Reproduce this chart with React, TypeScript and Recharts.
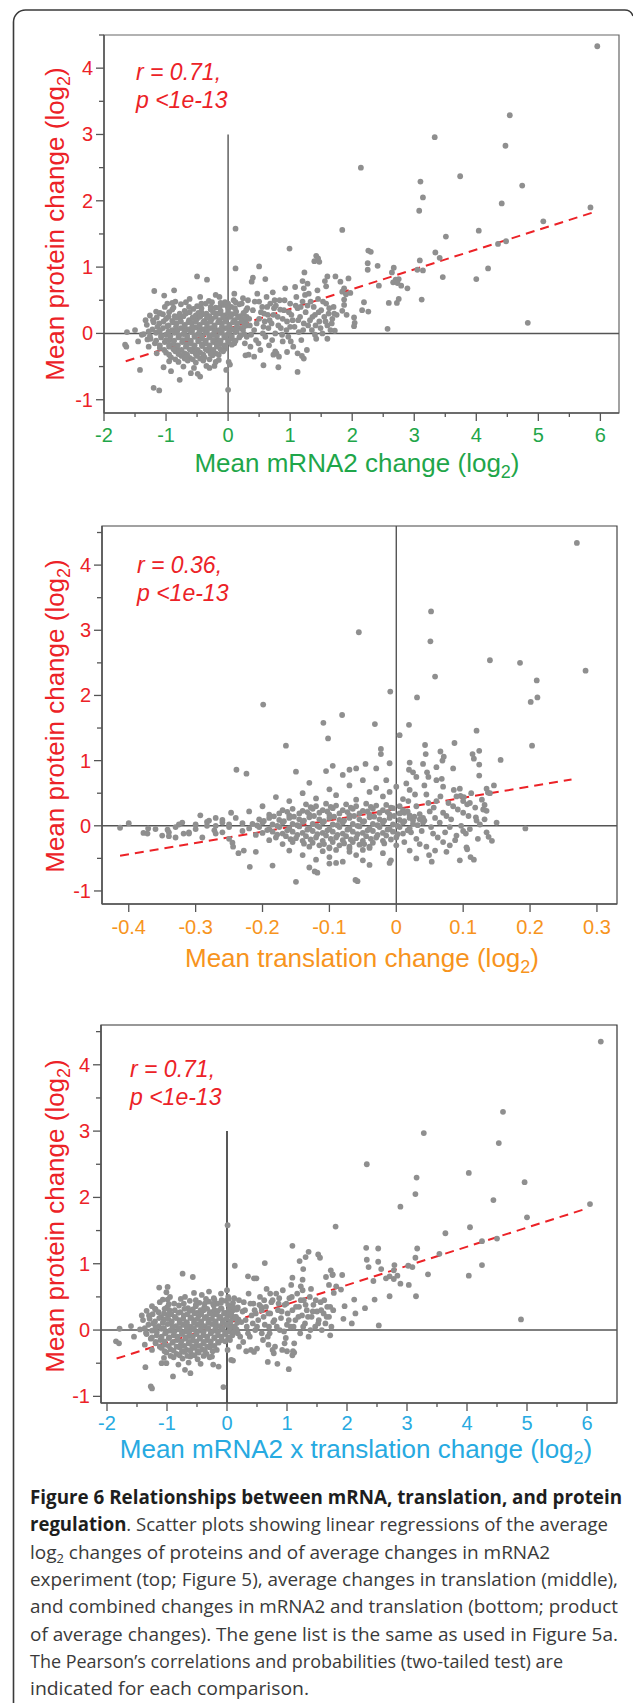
import React from 'react';
import {
    ScatterChart,
    Scatter,
    XAxis,
    YAxis,
    ReferenceLine,
    ReferenceArea,
} from 'recharts';

type Pair = [number, number];

// top panel: mean mRNA2 change vs mean protein change
const mrnaSparse: Pair[] = [
    [5.95, 4.33], [4.54, 3.29], [4.47, 2.83], [3.33, 2.96], [2.14, 2.5], [3.74, 2.37], [3.1, 2.29],
    [3.14, 2.05], [4.74, 2.23], [3.08, 1.85], [4.41, 1.96], [5.84, 1.9], [5.08, 1.69], [4.04, 1.55],
    [3.51, 1.46], [1.84, 1.56], [0.12, 1.58], [0.99, 1.28], [4.35, 1.35], [4.48, 1.39], [3.34, 1.22],
    [3.41, 1.14], [4.19, 0.98], [4.0, 0.82], [3.46, 0.85], [3.09, 1.1], [3.05, 0.96], [3.14, 0.95],
    [3.12, 0.51], [4.83, 0.16], [2.57, 0.07], [2.41, 1.02], [2.26, 1.25], [2.3, 1.23], [2.25, 1.06],
    [2.25, 0.96], [2.43, 0.72], [2.67, 0.99], [2.64, 0.92], [2.66, 0.77], [2.7, 0.81], [2.75, 0.82],
    [2.73, 0.76], [2.79, 0.72], [2.89, 0.68], [2.59, 0.46], [2.72, 0.46], [2.75, 0.52], [2.16, 0.35],
    [2.26, 0.33], [2.19, 0.47], [2.03, 0.24], [2.04, 0.16], [2.03, 0.11], [1.94, 0.83], [1.87, 0.68],
    [1.84, 0.63], [1.9, 0.59], [1.97, 0.61], [1.87, 0.51], [1.87, 0.43], [1.84, 0.34], [1.91, 0.28],
    [1.73, 0.86], [1.81, 0.78], [1.6, 0.86], [1.56, 0.79], [1.58, 0.71], [1.42, 1.17], [1.45, 1.13],
    [1.47, 1.08], [1.39, 1.09], [1.23, 0.92], [1.2, 0.79], [1.28, 0.75], [1.22, 0.68], [0.5, 1.01],
    [0.38, 0.78], [0.4, 0.84], [0.12, 0.98], [-0.5, 0.86], [-0.34, 0.81], [-1.19, 0.64], [-1.03, 0.57],
    [-0.87, 0.65], [1.12, -0.58], [0.81, -0.51], [0.57, -0.48], [0.0, -0.85], [-1.2, -0.82],
    [-1.11, -0.86], [-1.42, -0.55], [-1.66, -0.17], [-1.64, -0.2], [-1.63, 0.02], [-0.78, -0.7],
    [-1.04, -0.51], [-0.49, -0.61], [-0.45, -0.65], [-0.03, -0.55], [0.01, -0.43], [0.03, -0.47],
    [1.19, -0.34], [1.22, -0.38], [1.6, -0.08], [1.4, -0.02], [0.28, -0.33], [0.33, -0.32],
    [0.73, -0.32], [0.76, -0.27], [-1.39, -0.02], [-1.3, -0.09], [-0.92, -0.57], [-0.3, -0.52],
    [-0.22, -0.49],
];

const mrnaBand: Pair[] = [
    [0.22, 0.45], [0.25, 0.3], [0.28, 0.18], [0.3, -0.05], [0.32, 0.5], [0.35, 0.12], [0.36, -0.2],
    [0.4, 0.35], [0.42, 0.05], [0.45, -0.1], [0.47, 0.6], [0.5, 0.22], [0.52, -0.25], [0.55, 0.4],
    [0.57, 0.1], [0.6, -0.05], [0.62, 0.55], [0.64, 0.28], [0.66, -0.18], [0.7, 0.15], [0.72, 0.62],
    [0.74, 0.38], [0.76, 0.0], [0.78, -0.3], [0.8, 0.25], [0.83, 0.5], [0.85, 0.08], [0.88, -0.12],
    [0.9, 0.35], [0.92, 0.68], [0.95, 0.18], [0.97, -0.05], [1.0, 0.45], [1.02, 0.28], [1.05, -0.2],
    [1.07, 0.1], [1.1, 0.55], [1.12, 0.38], [1.14, 0.02], [1.16, 0.25], [1.18, -0.1], [1.2, 0.48],
    [1.22, 0.15], [1.25, 0.32], [1.27, -0.25], [1.3, 0.6], [1.32, 0.2], [1.35, 0.05], [1.38, 0.4],
    [1.4, 0.28], [1.42, -0.08], [1.45, 0.52], [1.47, 0.18], [1.5, 0.35], [1.52, 0.0], [1.55, 0.25],
    [1.58, 0.45], [1.6, 0.12], [1.62, 0.3], [1.65, 0.05], [1.68, 0.22], [1.7, 0.4], [1.72, 0.04],
    [1.75, 0.28], [0.6, 0.82], [0.68, 0.45], [0.82, -0.35], [0.95, -0.28], [1.08, 0.7], [0.3, 0.25],
    [0.5, 0.48], [0.65, 0.08], [0.88, 0.22], [1.0, 0.1], [1.28, 0.42], [1.12, -0.3], [1.44, 0.65],
    [0.75, 0.5], [0.42, -0.35], [0.58, 0.3],
    [0.24, 0.05], [0.27, -0.15], [0.31, 0.38], [0.34, 0.22], [0.37, -0.02], [0.43, 0.48], [0.46, 0.15],
    [0.49, -0.15], [0.53, 0.32], [0.56, 0.0], [0.59, 0.18], [0.63, 0.4], [0.67, 0.2], [0.71, -0.1],
    [0.73, 0.28], [0.77, 0.42], [0.81, 0.12], [0.84, 0.36], [0.87, -0.02], [0.91, 0.5], [0.94, 0.05],
    [0.98, 0.32], [1.01, -0.12], [1.04, 0.2], [1.09, 0.42], [1.13, 0.2], [1.17, 0.4], [1.21, 0.05],
    [1.24, 0.58], [1.29, 0.12], [1.33, 0.48], [1.36, 0.25], [1.41, 0.12], [1.46, 0.32], [1.49, 0.08],
    [1.53, 0.48], [1.57, 0.18], [1.63, 0.38], [1.67, 0.15], [1.71, 0.3],
];

const mrnaCore: Pair[] = [
    [-0.62, 0.52], [-0.31, 0.49], [-0.14, 0.55], [-0.05, 0.47], [0.09, 0.5], [0.24, 0.53],
    [-1.02, 0.4], [-0.76, 0.44], [-0.5, 0.41], [-0.36, 0.45], [-0.2, 0.39], [-0.08, 0.43], [0.05, 0.4], [0.18, 0.44],
    [-1.16, 0.33], [-0.9, 0.36], [-0.7, 0.34], [-0.56, 0.37], [-0.43, 0.32], [-0.28, 0.36], [-0.12, 0.34],
    [0.0, 0.37], [0.13, 0.33], [0.29, 0.35],
    [-1.26, 0.27], [-1.05, 0.29], [-0.86, 0.26], [-0.68, 0.3], [-0.52, 0.27], [-0.41, 0.29], [-0.3, 0.26],
    [-0.18, 0.3], [-0.06, 0.27], [0.06, 0.29], [0.2, 0.26],
    [-1.21, 0.2], [-1.0, 0.22], [-0.9, 0.19], [-0.78, 0.23], [-0.63, 0.2], [-0.5, 0.22], [-0.38, 0.19],
    [-0.26, 0.22], [-0.14, 0.2], [-0.02, 0.23], [0.1, 0.2], [0.24, 0.22],
    [-1.31, 0.13], [-1.11, 0.15], [-0.96, 0.12], [-0.83, 0.15], [-0.7, 0.13], [-0.58, 0.16], [-0.46, 0.13],
    [-0.34, 0.15], [-0.22, 0.12], [-0.1, 0.15], [0.02, 0.13], [0.15, 0.15], [0.3, 0.12],
    [-1.22, 0.06], [-1.05, 0.08], [-0.9, 0.05], [-0.76, 0.08], [-0.64, 0.06], [-0.52, 0.09], [-0.4, 0.06],
    [-0.28, 0.08], [-0.16, 0.05], [-0.04, 0.08], [0.08, 0.06], [0.2, 0.08],
    [-1.36, -0.01], [-1.16, 0.01], [-1.0, -0.02], [-0.86, 0.01], [-0.72, -0.01], [-0.6, 0.02], [-0.48, -0.01],
    [-0.36, 0.01], [-0.24, -0.02], [-0.12, 0.01], [0.0, -0.01], [0.12, 0.02], [0.26, -0.01],
    [-1.25, -0.08], [-1.08, -0.06], [-0.94, -0.09], [-0.8, -0.06], [-0.66, -0.08], [-0.54, -0.05], [-0.42, -0.08],
    [-0.3, -0.06], [-0.18, -0.09], [-0.06, -0.06], [0.06, -0.08], [0.18, -0.06],
    [-1.18, -0.15], [-1.02, -0.13], [-0.88, -0.16], [-0.74, -0.13], [-0.6, -0.15], [-0.48, -0.12], [-0.36, -0.15],
    [-0.24, -0.13], [-0.12, -0.16], [0.0, -0.13], [0.1, -0.15],
    [-1.1, -0.22], [-0.95, -0.2], [-0.82, -0.23], [-0.68, -0.2], [-0.55, -0.22], [-0.42, -0.19], [-0.3, -0.22],
    [-0.18, -0.2], [-0.05, -0.23],
    [-1.0, -0.29], [-0.85, -0.27], [-0.7, -0.3], [-0.58, -0.27], [-0.45, -0.29], [-0.32, -0.26], [-0.2, -0.3], [-0.08, -0.27],
    [-0.92, -0.36], [-0.75, -0.34], [-0.62, -0.37], [-0.5, -0.34], [-0.38, -0.36], [-0.25, -0.33],
    [-0.8, -0.43], [-0.65, -0.41], [-0.52, -0.44], [-0.4, -0.41], [-0.2, -0.43],
    [-0.72, -0.5], [-0.55, -0.52], [-0.35, -0.49],
    [-1.45, -0.12], [-1.5, 0.05], [-1.33, 0.2], [-1.28, -0.2], [-1.1, 0.3], [-1.15, -0.3], [-0.98, 0.45],
    [-0.85, 0.48], [-0.45, 0.55], [-0.2, 0.58], [0.1, 0.6], [-0.95, -0.42], [-0.6, -0.6], [-0.15, -0.4],
];

const mrnaCoreFill: Pair[] = [
    [-0.9, 0.46], [-0.68, 0.47], [-0.43, 0.45], [-0.26, 0.47], [-0.12, 0.46], [0.0, 0.45], [0.12, 0.47],
    [-0.88, 0.39], [-0.63, 0.4], [-0.43, 0.38], [-0.28, 0.4], [-0.14, 0.39], [-0.01, 0.41], [0.11, 0.38],
    [-1.1, 0.31], [-0.95, 0.32], [-0.78, 0.3], [-0.62, 0.32], [-0.48, 0.31], [-0.35, 0.3], [-0.24, 0.32],
    [-0.12, 0.3], [0.0, 0.32], [0.12, 0.3], [0.25, 0.31],
    [-1.15, 0.24], [-0.96, 0.25], [-0.84, 0.24], [-0.72, 0.26], [-0.57, 0.24], [-0.45, 0.25], [-0.34, 0.24],
    [-0.2, 0.25], [-0.08, 0.24], [0.04, 0.25], [0.16, 0.24],
    [-1.2, 0.17], [-1.04, 0.18], [-0.89, 0.17], [-0.76, 0.18], [-0.64, 0.17], [-0.52, 0.18], [-0.4, 0.17],
    [-0.28, 0.18], [-0.16, 0.17], [-0.04, 0.18], [0.08, 0.17], [0.22, 0.18],
    [-1.14, 0.1], [-0.98, 0.11], [-0.84, 0.1], [-0.7, 0.11], [-0.58, 0.1], [-0.46, 0.11], [-0.34, 0.1],
    [-0.22, 0.11], [-0.1, 0.1], [0.02, 0.11], [0.14, 0.1], [0.26, 0.11],
    [-1.28, 0.03], [-1.1, 0.04], [-0.96, 0.03], [-0.82, 0.04], [-0.7, 0.03], [-0.58, 0.04], [-0.46, 0.03],
    [-0.34, 0.04], [-0.22, 0.03], [-0.1, 0.04], [0.02, 0.03], [0.14, 0.04],
    [-1.26, -0.04], [-1.08, -0.03], [-0.93, -0.04], [-0.79, -0.03], [-0.66, -0.04], [-0.54, -0.03], [-0.42, -0.04],
    [-0.3, -0.03], [-0.18, -0.04], [-0.06, -0.03], [0.06, -0.04], [0.2, -0.03],
    [-1.16, -0.11], [-1.0, -0.1], [-0.87, -0.11], [-0.73, -0.1], [-0.6, -0.11], [-0.48, -0.1], [-0.36, -0.11],
    [-0.24, -0.1], [-0.12, -0.11], [0.0, -0.1], [0.12, -0.11],
    [-1.1, -0.18], [-0.95, -0.17], [-0.81, -0.18], [-0.67, -0.17], [-0.54, -0.18], [-0.42, -0.17], [-0.3, -0.18],
    [-0.18, -0.17], [-0.06, -0.18], [0.06, -0.17],
    [-1.03, -0.25], [-0.88, -0.24], [-0.75, -0.25], [-0.62, -0.24], [-0.49, -0.25], [-0.36, -0.24], [-0.24, -0.25], [-0.12, -0.24],
    [-0.95, -0.32], [-0.8, -0.31], [-0.66, -0.32], [-0.52, -0.31], [-0.4, -0.32], [-0.28, -0.31], [-0.15, -0.32],
    [-0.85, -0.39], [-0.7, -0.38], [-0.57, -0.39], [-0.45, -0.38], [-0.3, -0.39],
];

const mrnaFit: Pair[] = [[-1.65, -0.42], [5.9, 1.83]];
const mrnaXTicks = [-2, -1.5, -1, -0.5, 0, 0.5, 1, 1.5, 2, 2.5, 3, 3.5, 4, 4.5, 5, 5.5, 6];
const mrnaXLabels = ['-2', '', '-1', '', '0', '', '1', '', '2', '', '3', '', '4', '', '5', '', '6'];

// middle panel: mean translation change vs mean protein change
const transSparse: Pair[] = [
    [0.27, 4.34], [0.052, 3.29], [0.051, 2.83], [-0.056, 2.97], [0.14, 2.54], [0.185, 2.5], [0.283, 2.38],
    [0.058, 2.29], [0.21, 2.23], [0.211, 1.97], [0.201, 1.9], [-0.009, 2.06], [0.031, 1.97], [-0.199, 1.86],
    [-0.081, 1.7], [-0.109, 1.58], [-0.032, 1.56], [0.019, 1.55], [-0.102, 1.34], [0.005, 1.39],
    [-0.165, 1.23], [0.12, 1.46], [0.087, 1.27], [0.203, 1.23], [0.043, 1.24], [0.044, 1.1], [0.066, 1.14],
    [0.071, 1.06], [0.069, 1.0], [0.114, 1.1], [0.116, 1.03], [0.124, 1.15], [0.156, 1.01], [0.124, 0.94],
    [0.124, 0.77], [-0.023, 1.18], [-0.023, 1.1], [-0.046, 0.95], [-0.239, 0.86], [-0.224, 0.8],
    [-0.15, 0.83], [-0.105, 0.84], [-0.095, 0.92], [-0.07, 0.86], [-0.06, 0.88], [-0.01, 0.96],
    [0.02, 0.97], [0.019, 0.86], [0.046, 0.82], [0.048, 0.75], [0.095, 0.57], [0.096, 0.46], [0.135, 0.57],
    [0.137, 0.51], [0.146, 0.62], [0.101, 0.44], [0.106, 0.33], [0.132, 0.32], [0.135, 0.23], [0.119, 0.13],
    [0.193, -0.04], [0.138, -0.17], [0.143, -0.23], [0.095, -0.53], [0.111, -0.48], [0.116, -0.52],
    [0.105, -0.33], [0.106, -0.36], [0.08, -0.3], [0.053, -0.55], [0.049, -0.45], [0.03, -0.5],
    [-0.008, -0.53], [-0.01, -0.57], [-0.061, -0.83], [-0.058, -0.85], [-0.15, -0.86], [-0.122, -0.7],
    [-0.118, -0.72], [-0.13, -0.64], [-0.219, -0.63], [-0.185, -0.61], [-0.21, -0.4], [-0.236, -0.42],
    [-0.228, -0.38], [-0.245, -0.26], [-0.244, -0.32], [-0.1, -0.58], [-0.09, -0.57], [-0.05, -0.53],
    [-0.413, -0.03], [-0.4, 0.04], [-0.378, -0.11], [-0.371, -0.04], [-0.372, -0.12], [-0.342, -0.06],
    [-0.34, -0.16], [-0.33, -0.18], [-0.318, -0.12], [-0.325, 0.02], [-0.31, -0.1], [-0.293, 0.16],
    [-0.3, 0.02], [-0.283, 0.06], [-0.283, 0.0], [-0.272, -0.07], [-0.27, -0.12], [-0.26, 0.09],
    [-0.25, 0.02], [-0.247, 0.2],
];

const transBand: Pair[] = [
    [-0.12, 0.42], [-0.09, 0.47], [-0.06, 0.4], [-0.04, 0.52], [-0.02, 0.45], [0.0, 0.6], [-0.14, 0.5],
    [-0.16, 0.38], [-0.1, 0.56], [-0.07, 0.62], [-0.05, 0.7], [-0.03, 0.58], [-0.08, 0.78], [-0.13, 0.66],
    [-0.18, 0.44], [-0.2, 0.3], [-0.22, 0.22], [-0.24, 0.12], [-0.23, 0.04], [0.01, 0.41], [0.02, 0.55],
    [0.03, 0.3], [0.045, 0.48], [0.05, 0.22], [0.06, 0.38], [0.07, 0.6], [0.075, 0.15], [0.085, 0.3],
    [0.09, 0.45], [0.1, 0.2], [0.11, 0.35], [0.12, 0.08], [0.13, 0.25], [0.14, 0.5], [0.06, 0.7],
    [0.03, 0.75], [0.04, 0.12], [0.065, 0.05], [0.08, -0.02], [0.1, -0.08], [0.055, -0.12], [0.03, -0.2],
    [0.07, -0.25], [0.09, -0.15], [0.045, -0.32], [0.02, -0.38], [0.075, -0.4], [0.11, -0.05],
    [0.125, 0.02], [0.135, -0.1], [0.15, 0.05], [0.06, 0.9], [0.085, 0.88], [-0.03, 0.88],
    [-0.17, -0.28], [-0.19, -0.22], [-0.21, -0.14], [-0.23, -0.08], [-0.25, -0.02], [-0.14, -0.45],
    [-0.1, -0.48], [-0.06, -0.45], [-0.02, -0.42], [-0.08, -0.55], [-0.04, -0.6], [0.0, -0.3],
    [-0.16, -0.38], [-0.12, -0.52],
    [-0.27, 0.0], [-0.26, -0.1], [-0.28, 0.08], [-0.3, -0.05], [-0.31, -0.12], [-0.33, -0.02],
    [-0.34, -0.1], [-0.35, -0.15], [-0.32, 0.05], [-0.36, -0.05], [-0.29, -0.18], [-0.27, 0.12],
    [-0.25, -0.2], [-0.26, 0.05],
    [0.005, 0.3], [0.012, 0.2], [0.018, 0.38], [0.025, 0.08], [0.028, 0.48], [0.035, 0.18], [0.038, -0.08],
    [0.042, 0.62], [0.048, 0.35], [0.052, -0.02], [0.056, 0.28], [0.058, 0.12], [0.062, -0.18], [0.066, 0.45],
    [0.07, 0.2], [0.073, -0.1], [0.078, 0.35], [0.082, 0.1], [0.086, 0.55], [0.088, -0.22], [0.092, 0.25],
    [0.097, 0.0], [0.1, 0.38], [0.104, -0.12], [0.108, 0.15], [0.112, 0.5], [0.118, 0.28], [0.122, -0.2],
    [0.128, 0.4], [0.132, 0.1], [0.012, -0.25], [0.022, -0.1], [0.035, -0.28], [0.058, -0.38], [0.068, 0.72],
    [0.015, 0.65], [-0.01, 0.52], [0.025, 0.82], [-0.015, 0.7], [0.04, 0.95],
];

const transCore: Pair[] = [
    [-0.135, 0.33], [-0.12, 0.3], [-0.105, 0.34], [-0.09, 0.31], [-0.075, 0.33], [-0.06, 0.3], [-0.045, 0.34],
    [-0.03, 0.31], [-0.015, 0.32],
    [-0.17, 0.24], [-0.155, 0.26], [-0.14, 0.23], [-0.125, 0.26], [-0.11, 0.24], [-0.095, 0.27], [-0.08, 0.24],
    [-0.065, 0.26], [-0.05, 0.23], [-0.035, 0.26], [-0.02, 0.24], [-0.005, 0.27], [0.01, 0.24],
    [-0.19, 0.17], [-0.175, 0.19], [-0.16, 0.16], [-0.145, 0.19], [-0.13, 0.17], [-0.115, 0.2], [-0.1, 0.17],
    [-0.085, 0.19], [-0.07, 0.16], [-0.055, 0.19], [-0.04, 0.17], [-0.025, 0.2], [-0.01, 0.17], [0.005, 0.19],
    [0.02, 0.16],
    [-0.205, 0.1], [-0.19, 0.12], [-0.175, 0.09], [-0.16, 0.12], [-0.145, 0.1], [-0.13, 0.13], [-0.115, 0.1],
    [-0.1, 0.12], [-0.085, 0.09], [-0.07, 0.12], [-0.055, 0.1], [-0.04, 0.13], [-0.025, 0.1], [-0.01, 0.12],
    [0.005, 0.09], [0.02, 0.12], [0.035, 0.1],
    [-0.215, 0.03], [-0.2, 0.05], [-0.185, 0.02], [-0.17, 0.05], [-0.155, 0.03], [-0.14, 0.06], [-0.125, 0.03],
    [-0.11, 0.05], [-0.095, 0.02], [-0.08, 0.05], [-0.065, 0.03], [-0.05, 0.06], [-0.035, 0.03], [-0.02, 0.05],
    [-0.005, 0.02], [0.01, 0.05], [0.025, 0.03], [0.04, 0.05],
    [-0.22, -0.04], [-0.205, -0.02], [-0.19, -0.05], [-0.175, -0.02], [-0.16, -0.04], [-0.145, -0.01],
    [-0.13, -0.04], [-0.115, -0.02], [-0.1, -0.05], [-0.085, -0.02], [-0.07, -0.04], [-0.055, -0.01],
    [-0.04, -0.04], [-0.025, -0.02], [-0.01, -0.05], [0.005, -0.02], [0.02, -0.04],
    [-0.2, -0.11], [-0.185, -0.09], [-0.17, -0.12], [-0.155, -0.09], [-0.14, -0.11], [-0.125, -0.08],
    [-0.11, -0.11], [-0.095, -0.09], [-0.08, -0.12], [-0.065, -0.09], [-0.05, -0.11], [-0.035, -0.08],
    [-0.02, -0.11], [-0.005, -0.09], [0.01, -0.12],
    [-0.18, -0.18], [-0.165, -0.16], [-0.15, -0.19], [-0.135, -0.16], [-0.12, -0.18], [-0.105, -0.15],
    [-0.09, -0.18], [-0.075, -0.16], [-0.06, -0.19], [-0.045, -0.16], [-0.03, -0.18], [-0.015, -0.15], [0.0, -0.18],
    [-0.155, -0.25], [-0.14, -0.23], [-0.125, -0.26], [-0.11, -0.23], [-0.095, -0.25], [-0.08, -0.22],
    [-0.065, -0.25], [-0.05, -0.23], [-0.035, -0.26], [-0.02, -0.23],
    [-0.13, -0.32], [-0.115, -0.3], [-0.1, -0.33], [-0.085, -0.3], [-0.07, -0.32], [-0.055, -0.29], [-0.04, -0.32],
    [-0.11, -0.39], [-0.09, -0.37], [-0.07, -0.4], [-0.05, -0.37],
];

const transCoreFill: Pair[] = [
    [-0.128, 0.285], [-0.098, 0.29], [-0.068, 0.28], [-0.038, 0.29], [-0.008, 0.28],
    [-0.163, 0.215], [-0.133, 0.21], [-0.103, 0.22], [-0.073, 0.21], [-0.043, 0.22], [-0.013, 0.21], [0.017, 0.22],
    [-0.183, 0.145], [-0.153, 0.14], [-0.123, 0.15], [-0.093, 0.14], [-0.063, 0.15], [-0.033, 0.14],
    [-0.003, 0.15], [0.027, 0.14],
    [-0.198, 0.075], [-0.168, 0.07], [-0.138, 0.08], [-0.108, 0.07], [-0.078, 0.08], [-0.048, 0.07],
    [-0.018, 0.08], [0.012, 0.07], [0.042, 0.08],
    [-0.208, 0.005], [-0.178, 0.0], [-0.148, 0.01], [-0.118, 0.0], [-0.088, 0.01], [-0.058, 0.0],
    [-0.028, 0.01], [0.002, 0.0], [0.032, 0.01],
    [-0.193, -0.065], [-0.163, -0.07], [-0.133, -0.06], [-0.103, -0.07], [-0.073, -0.06], [-0.043, -0.07],
    [-0.013, -0.06], [0.017, -0.07],
    [-0.178, -0.135], [-0.148, -0.14], [-0.118, -0.13], [-0.088, -0.14], [-0.058, -0.13], [-0.028, -0.14], [0.002, -0.13],
    [-0.158, -0.205], [-0.128, -0.21], [-0.098, -0.2], [-0.068, -0.21], [-0.038, -0.2], [-0.008, -0.21],
    [-0.138, -0.275], [-0.108, -0.28], [-0.078, -0.27], [-0.048, -0.28], [-0.018, -0.27],
    [-0.1, -0.345], [-0.07, -0.35], [-0.04, -0.34],
];

const transFit: Pair[] = [[-0.413, -0.46], [0.262, 0.71]];
const transXTicks = [-0.4, -0.3, -0.2, -0.1, 0, 0.1, 0.2, 0.3];
const transXLabels = ['-0.4', '-0.3', '-0.2', '-0.1', '0', '0.1', '0.2', '0.3'];

// bottom panel: mean mRNA2 x translation change vs mean protein change
const combSparse: Pair[] = [
    [6.23, 4.35], [4.6, 3.29], [4.53, 2.82], [3.28, 2.97], [2.33, 2.5], [4.03, 2.37], [3.16, 2.3],
    [3.14, 2.05], [4.96, 2.23], [2.89, 1.86], [4.44, 1.96], [6.05, 1.9], [5.0, 1.7], [4.05, 1.55],
    [3.64, 1.46], [1.81, 1.56], [0.01, 1.58], [1.09, 1.27], [4.25, 1.34], [4.5, 1.38], [3.54, 1.15],
    [3.17, 1.23], [3.14, 1.09], [4.25, 0.98], [4.03, 0.82], [3.35, 0.84], [3.02, 0.97], [3.09, 0.95],
    [3.15, 0.51], [4.9, 0.16], [2.53, 0.07], [2.32, 1.24], [2.52, 1.23], [2.33, 1.06], [2.52, 1.03],
    [2.36, 0.95], [2.57, 0.92], [2.79, 0.98], [2.78, 0.9], [2.65, 0.78], [2.78, 0.77], [2.84, 0.82],
    [2.71, 0.81], [2.89, 0.7], [3.03, 0.68], [2.46, 0.46], [2.71, 0.51], [2.44, 0.74], [2.3, 0.33],
    [2.12, 0.46], [2.14, 0.25], [2.08, 0.1], [1.94, 0.17], [1.92, 0.83], [1.9, 0.61], [1.96, 0.36],
    [1.76, 0.83], [1.82, 0.66], [1.78, 0.56], [1.73, 0.9], [1.76, 0.84], [1.65, 0.8], [1.7, 0.68],
    [1.52, 1.14], [1.55, 1.09], [1.36, 1.18], [1.31, 1.1], [1.21, 1.04], [1.09, 0.79], [1.26, 0.76],
    [1.27, 0.92], [1.23, 0.66], [0.63, 1.01], [0.49, 0.78], [0.35, 0.81], [0.13, 0.97], [-0.74, 0.85],
    [-0.57, 0.8], [-1.13, 0.64], [-0.99, 0.65], [-1.01, 0.57], [1.72, -0.08], [1.03, -0.59],
    [0.84, -0.51], [0.68, -0.48], [1.12, -0.34], [1.09, -0.38], [-0.06, -0.86], [-1.27, -0.85],
    [-1.25, -0.88], [-1.36, -0.56], [-1.85, -0.17], [-1.8, -0.2], [-1.79, 0.02], [-0.9, -0.7],
    [-1.01, -0.5], [-1.09, -0.5], [-0.61, -0.65], [-0.14, -0.55], [-0.23, -0.52], [0.07, -0.45],
    [0.1, -0.46], [0.01, -0.3], [0.32, -0.32], [0.45, -0.33], [0.69, -0.22], [0.76, -0.3], [1.0, -0.32],
    [0.96, -0.2],
];

const combBand: Pair[] = [
    [0.1, 0.35], [0.15, 0.2], [0.18, -0.05], [0.2, 0.45], [0.24, 0.12], [0.27, -0.18], [0.3, 0.3],
    [0.33, 0.05], [0.36, 0.55], [0.38, -0.1], [0.41, 0.22], [0.44, 0.4], [0.47, 0.0], [0.5, -0.28],
    [0.52, 0.15], [0.55, 0.5], [0.58, 0.3], [0.6, -0.15], [0.63, 0.08], [0.66, 0.62], [0.69, 0.25],
    [0.71, -0.05], [0.74, 0.42], [0.77, 0.12], [0.8, -0.25], [0.82, 0.55], [0.85, 0.3], [0.88, 0.0],
    [0.9, 0.18], [0.93, 0.6], [0.96, 0.38], [0.98, -0.12], [1.01, 0.25], [1.04, 0.48], [1.06, 0.05],
    [1.09, 0.3], [1.12, -0.2], [1.14, 0.15], [1.17, 0.55], [1.2, 0.35], [1.22, -0.05], [1.25, 0.22],
    [1.28, 0.45], [1.3, 0.1], [1.33, 0.3], [1.36, -0.1], [1.38, 0.5], [1.41, 0.2], [1.44, 0.38],
    [1.47, 0.05], [1.5, 0.28], [1.53, 0.15], [1.56, 0.42], [1.58, 0.0], [1.61, 0.25], [1.64, 0.1],
    [1.67, 0.35], [1.7, 0.2], [1.74, 0.05], [1.77, 0.3], [0.45, 0.78], [0.62, 0.45], [0.78, -0.35],
    [0.92, -0.3], [1.07, 0.68], [0.28, 0.42], [0.48, 0.25], [0.7, 0.05], [0.86, 0.4], [1.0, 0.08],
    [1.26, 0.6], [1.1, -0.32], [1.4, 0.62], [0.72, 0.55], [0.4, -0.3], [0.57, 0.35], [0.12, 0.48],
    [0.2, -0.25], [0.08, 0.2], [0.05, -0.15],
    [0.13, 0.05], [0.17, 0.32], [0.22, -0.1], [0.26, 0.28], [0.31, 0.15], [0.35, -0.05], [0.39, 0.4],
    [0.43, 0.1], [0.46, 0.3], [0.5, 0.05], [0.54, 0.38], [0.58, -0.05], [0.61, 0.2], [0.65, 0.35],
    [0.68, -0.1], [0.72, 0.25], [0.76, 0.45], [0.79, 0.15], [0.83, 0.05], [0.87, 0.48], [0.91, 0.28],
    [0.95, -0.02], [0.99, 0.4], [1.03, 0.15], [1.08, 0.5], [1.11, 0.05], [1.15, 0.35], [1.19, 0.2],
    [1.23, 0.45], [1.27, 0.05], [1.31, 0.38], [1.35, 0.2], [1.39, 0.0], [1.43, 0.28], [1.48, 0.45],
    [1.52, 0.1], [1.57, 0.3], [1.62, 0.45], [1.66, 0.2], [1.72, 0.35],
];

const combCore: Pair[] = [
    [-0.7, 0.5], [-0.42, 0.53], [-0.22, 0.48], [-0.1, 0.55], [0.02, 0.5],
    [-1.12, 0.42], [-0.88, 0.4], [-0.62, 0.44], [-0.46, 0.41], [-0.3, 0.43], [-0.16, 0.4], [-0.02, 0.44], [0.1, 0.41],
    [-1.25, 0.36], [-1.0, 0.34], [-0.8, 0.37], [-0.65, 0.33], [-0.52, 0.36], [-0.38, 0.34], [-0.22, 0.37],
    [-0.1, 0.33], [0.04, 0.36], [0.18, 0.34],
    [-1.34, 0.29], [-1.14, 0.27], [-0.96, 0.3], [-0.78, 0.27], [-0.62, 0.29], [-0.5, 0.26], [-0.39, 0.3],
    [-0.27, 0.27], [-0.15, 0.29], [-0.03, 0.26], [0.1, 0.3],
    [-1.3, 0.22], [-1.1, 0.2], [-0.99, 0.23], [-0.87, 0.2], [-0.72, 0.22], [-0.6, 0.19], [-0.47, 0.22],
    [-0.35, 0.2], [-0.23, 0.23], [-0.11, 0.2], [0.01, 0.22], [0.14, 0.2],
    [-1.4, 0.15], [-1.2, 0.13], [-1.05, 0.16], [-0.92, 0.13], [-0.79, 0.15], [-0.67, 0.12], [-0.55, 0.15],
    [-0.43, 0.13], [-0.31, 0.16], [-0.19, 0.13], [-0.07, 0.15], [0.06, 0.13], [0.19, 0.16],
    [-1.31, 0.08], [-1.14, 0.06], [-0.99, 0.09], [-0.85, 0.06], [-0.73, 0.08], [-0.61, 0.05], [-0.49, 0.08],
    [-0.37, 0.06], [-0.25, 0.09], [-0.13, 0.06], [-0.01, 0.08], [0.11, 0.05],
    [-1.45, 0.01], [-1.25, -0.01], [-1.09, 0.02], [-0.95, -0.01], [-0.81, 0.01], [-0.69, -0.02], [-0.57, 0.01],
    [-0.45, -0.01], [-0.33, 0.02], [-0.21, -0.01], [-0.09, 0.01], [0.03, -0.02], [0.16, 0.01],
    [-1.34, -0.06], [-1.17, -0.08], [-1.03, -0.05], [-0.89, -0.08], [-0.75, -0.06], [-0.63, -0.09], [-0.51, -0.06],
    [-0.39, -0.08], [-0.27, -0.05], [-0.15, -0.08], [-0.03, -0.06], [0.09, -0.08],
    [-1.27, -0.13], [-1.11, -0.15], [-0.97, -0.12], [-0.83, -0.15], [-0.69, -0.13], [-0.57, -0.16], [-0.45, -0.13],
    [-0.33, -0.15], [-0.21, -0.12], [-0.09, -0.15], [0.02, -0.13],
    [-1.19, -0.2], [-1.04, -0.22], [-0.91, -0.19], [-0.77, -0.22], [-0.64, -0.2], [-0.51, -0.23], [-0.39, -0.2],
    [-0.27, -0.22], [-0.14, -0.19],
    [-1.09, -0.27], [-0.94, -0.29], [-0.79, -0.26], [-0.67, -0.3], [-0.54, -0.27], [-0.41, -0.29], [-0.29, -0.26], [-0.17, -0.3],
    [-1.01, -0.34], [-0.84, -0.36], [-0.71, -0.33], [-0.59, -0.37], [-0.47, -0.34], [-0.34, -0.36],
    [-0.89, -0.41], [-0.74, -0.43], [-0.61, -0.4], [-0.49, -0.44], [-0.29, -0.41],
    [-0.81, -0.52], [-0.64, -0.49], [-0.44, -0.51],
    [-1.55, -0.1], [-1.6, 0.06], [-1.42, 0.22], [-1.37, -0.22], [-1.2, 0.32], [-1.25, -0.3], [-1.07, 0.46],
    [-0.95, 0.5], [-0.55, 0.56], [-0.3, 0.58], [0.0, 0.6], [-1.05, -0.42], [-0.7, -0.6], [-0.25, -0.4],
];

const combCoreFill: Pair[] = [
    [-0.99, 0.46], [-0.77, 0.47], [-0.52, 0.45], [-0.35, 0.47], [-0.21, 0.46], [-0.09, 0.45], [0.03, 0.47],
    [-0.97, 0.39], [-0.72, 0.4], [-0.52, 0.38], [-0.37, 0.4], [-0.23, 0.39], [-0.1, 0.41], [0.02, 0.38],
    [-1.19, 0.31], [-1.04, 0.32], [-0.87, 0.3], [-0.71, 0.32], [-0.57, 0.31], [-0.44, 0.3], [-0.33, 0.32],
    [-0.21, 0.3], [-0.09, 0.32], [0.03, 0.3], [0.16, 0.31],
    [-1.24, 0.24], [-1.05, 0.25], [-0.93, 0.24], [-0.81, 0.26], [-0.66, 0.24], [-0.54, 0.25], [-0.43, 0.24],
    [-0.29, 0.25], [-0.17, 0.24], [-0.05, 0.25], [0.07, 0.24],
    [-1.29, 0.17], [-1.13, 0.18], [-0.98, 0.17], [-0.85, 0.18], [-0.73, 0.17], [-0.61, 0.18], [-0.49, 0.17],
    [-0.37, 0.18], [-0.25, 0.17], [-0.13, 0.18], [-0.01, 0.17], [0.13, 0.18],
    [-1.23, 0.1], [-1.07, 0.11], [-0.93, 0.1], [-0.79, 0.11], [-0.67, 0.1], [-0.55, 0.11], [-0.43, 0.1],
    [-0.31, 0.11], [-0.19, 0.1], [-0.07, 0.11], [0.05, 0.1], [0.17, 0.11],
    [-1.37, 0.03], [-1.19, 0.04], [-1.05, 0.03], [-0.91, 0.04], [-0.79, 0.03], [-0.67, 0.04], [-0.55, 0.03],
    [-0.43, 0.04], [-0.31, 0.03], [-0.19, 0.04], [-0.07, 0.03], [0.05, 0.04],
    [-1.35, -0.04], [-1.17, -0.03], [-1.02, -0.04], [-0.88, -0.03], [-0.75, -0.04], [-0.63, -0.03], [-0.51, -0.04],
    [-0.39, -0.03], [-0.27, -0.04], [-0.15, -0.03], [-0.03, -0.04], [0.11, -0.03],
    [-1.25, -0.11], [-1.09, -0.1], [-0.96, -0.11], [-0.82, -0.1], [-0.69, -0.11], [-0.57, -0.1], [-0.45, -0.11],
    [-0.33, -0.1], [-0.21, -0.11], [-0.09, -0.1], [0.03, -0.11],
    [-1.19, -0.18], [-1.04, -0.17], [-0.9, -0.18], [-0.76, -0.17], [-0.63, -0.18], [-0.51, -0.17], [-0.39, -0.18],
    [-0.27, -0.17], [-0.15, -0.18], [-0.03, -0.17],
    [-1.12, -0.25], [-0.97, -0.24], [-0.84, -0.25], [-0.71, -0.24], [-0.58, -0.25], [-0.45, -0.24], [-0.33, -0.25], [-0.21, -0.24],
    [-1.04, -0.32], [-0.89, -0.31], [-0.75, -0.32], [-0.61, -0.31], [-0.49, -0.32], [-0.37, -0.31], [-0.24, -0.32],
    [-0.94, -0.39], [-0.79, -0.38], [-0.66, -0.39], [-0.54, -0.38], [-0.39, -0.39],
];

const combFit: Pair[] = [[-1.84, -0.43], [6.02, 1.84]];
const combXTicks = [-2, -1.5, -1, -0.5, 0, 0.5, 1, 1.5, 2, 2.5, 3, 3.5, 4, 4.5, 5, 5.5, 6];
const combXLabels = ['-2', '', '-1', '', '0', '', '1', '', '2', '', '3', '', '4', '', '5', '', '6'];

// shared protein axis
const proteinYTicks = [-1, -0.5, 0, 0.5, 1, 1.5, 2, 2.5, 3, 3.5, 4, 4.5];
const proteinYLabels = ['-1', '', '0', '', '1', '', '2', '', '3', '', '4', ''];

const captionLines = [
    'experiment (top; Figure 5), average changes in translation (middle),',
    'and combined changes in mRNA2 and translation (bottom; product',
    'of average changes). The gene list is the same as used in Figure 5a.',
    'The Pearson\u2019s correlations and probabilities (two-tailed test) are',
    'indicated for each comparison.',
];

const RED = '#ec2227';
const DOT = '#8f8f8f';
const AXIS = '#555';
const FONT = "'Liberation Sans', Arial, sans-serif";

const toPoints = (...sets: Pair[][]) => sets.flat().map(([x, y]) => ({ x, y }));

const dotShape = (props: any) => <circle cx={props.cx} cy={props.cy} r={2.9} fill={DOT} />;

interface PanelProps {
    top: number;
    height: number;
    plotTop: number;
    plotBottom: number;
    plotLeft: number;
    plotRight: number;
    xDomain: [number, number];
    yDomain: [number, number];
    xTicks: number[];
    xLabels: string[];
    xColor: string;
    labelDy: number;
    points: { x: number; y: number }[];
    fit: Pair[];
    zeroTop: number;
    zeroColor: string;
    frameColor: string;
}

function Panel(p: PanelProps) {
    const renderXTick = (props: any) => {
        const { x, y, payload } = props;
        const i = p.xTicks.findIndex((t) => Math.abs(t - payload.value) < 1e-9);
        const label = i >= 0 ? p.xLabels[i] : '';
        return (
            <g>
                <line x1={x} y1={y} x2={x} y2={y + (label ? 8 : 4)} stroke={AXIS} strokeWidth={1.3} />
                {label && (
                    <text x={x} y={y + p.labelDy} textAnchor="middle" fill={p.xColor} fontSize={20} fontFamily={FONT}>
                        {label}
                    </text>
                )}
            </g>
        );
    };
    const renderYTick = (props: any) => {
        const { x, y, payload } = props;
        const i = proteinYTicks.findIndex((t) => Math.abs(t - payload.value) < 1e-9);
        const label = i >= 0 ? proteinYLabels[i] : '';
        return (
            <g>
                <line x1={x} y1={y} x2={x - (label ? 8 : 5)} y2={y} stroke={AXIS} strokeWidth={1.3} />
                {label && (
                    <text x={x - 11} y={y + 7} textAnchor="end" fill={RED} fontSize={20} fontFamily={FONT}>
                        {label}
                    </text>
                )}
            </g>
        );
    };
    return (
        <div style={{ position: 'absolute', left: 0, top: p.top }}>
            <ScatterChart
                width={633}
                height={p.height}
                margin={{ top: p.plotTop, right: 633 - p.plotRight, left: 0, bottom: 0 }}
            >
                <XAxis
                    type="number"
                    dataKey="x"
                    domain={p.xDomain}
                    ticks={p.xTicks}
                    interval={0}
                    allowDataOverflow
                    height={p.height - p.plotBottom}
                    tickSize={0}
                    tickMargin={0}
                    tickLine={false}
                    axisLine={{ stroke: AXIS, strokeWidth: 1.5 }}
                    tick={renderXTick}
                />
                <YAxis
                    type="number"
                    dataKey="y"
                    domain={p.yDomain}
                    ticks={proteinYTicks.filter((t) => t <= p.yDomain[1])}
                    interval={0}
                    allowDataOverflow
                    width={p.plotLeft}
                    tickSize={0}
                    tickMargin={0}
                    tickLine={false}
                    axisLine={{ stroke: AXIS, strokeWidth: 1.5 }}
                    tick={renderYTick}
                />
                <ReferenceArea
                    x1={p.xDomain[0]}
                    x2={p.xDomain[1]}
                    y1={p.yDomain[0]}
                    y2={p.yDomain[1]}
                    fill="none"
                    fillOpacity={0}
                    stroke={p.frameColor}
                    strokeWidth={1.2}
                />
                <Scatter data={p.points} shape={dotShape} isAnimationActive={false} />
                <ReferenceLine y={0} stroke={AXIS} strokeWidth={1.5} />
                <ReferenceLine
                    segment={[{ x: 0, y: p.yDomain[0] }, { x: 0, y: p.zeroTop }]}
                    stroke={p.zeroColor}
                    strokeWidth={1.4}
                />
                <ReferenceLine
                    segment={[{ x: p.fit[0][0], y: p.fit[0][1] }, { x: p.fit[1][0], y: p.fit[1][1] }]}
                    stroke={RED}
                    strokeWidth={2}
                    strokeDasharray="9 6"
                />
            </ScatterChart>
        </div>
    );
}

function YTitle({ cy }: { cy: number }) {
    return (
        <text transform={`translate(64,${cy}) rotate(-90)`} textAnchor="middle" fill={RED} fontSize={26} fontFamily={FONT}>
            Mean protein change (log<tspan dy={6} fontSize={18}>2</tspan><tspan dy={-6}>)</tspan>
        </text>
    );
}

function XTitle({ cx, y, color, text }: { cx: number; y: number; color: string; text: string }) {
    return (
        <text x={cx} y={y} textAnchor="middle" fill={color} fontSize={26} fontFamily={FONT}>
            {text} (log<tspan dy={6} fontSize={18}>2</tspan><tspan dy={-6}>)</tspan>
        </text>
    );
}

function Stats({ x, y, r }: { x: number; y: number; r: string }) {
    return (
        <g fill={RED} fontSize={23} fontStyle="italic" fontFamily={FONT}>
            <text x={x} y={y}>{`r = ${r},`}</text>
            <text x={x} y={y + 28}>p &lt;1e-13</text>
        </g>
    );
}

export default function App() {
    const capFont = "'Open Sans', 'Noto Sans', sans-serif";
    const capWidths = [588, 588, 588, 533, 279];
    return (
        <div style={{ position: 'absolute', left: 0, top: 0, width: 633, height: 1703, background: '#fff', overflow: 'hidden' }}>
            <Panel
                top={0}
                height={500}
                plotTop={35}
                plotBottom={413}
                plotLeft={104}
                plotRight={619}
                xDomain={[-2, 6.3]}
                yDomain={[-1.2, 4.5]}
                xTicks={mrnaXTicks}
                xLabels={mrnaXLabels}
                xColor="#1fa64a"
                labelDy={29}
                points={toPoints(mrnaSparse, mrnaBand, mrnaCore, mrnaCoreFill)}
                fit={mrnaFit}
                zeroTop={3}
                zeroColor="#555"
                frameColor="#666"
            />
            <Panel
                top={500}
                height={500}
                plotTop={26}
                plotBottom={404}
                plotLeft={102}
                plotRight={617}
                xDomain={[-0.44, 0.33]}
                yDomain={[-1.2, 4.6]}
                xTicks={transXTicks}
                xLabels={transXLabels}
                xColor="#f7941d"
                labelDy={30}
                points={toPoints(transSparse, transBand, transCore, transCoreFill)}
                fit={transFit}
                zeroTop={4.6}
                zeroColor="#555"
                frameColor="#444"
            />
            <Panel
                top={1000}
                height={470}
                plotTop={25}
                plotBottom={403}
                plotLeft={101}
                plotRight={617}
                xDomain={[-2.1, 6.5]}
                yDomain={[-1.1, 4.6]}
                xTicks={combXTicks}
                xLabels={combXLabels}
                xColor="#27aae1"
                labelDy={26.5}
                points={toPoints(combSparse, combBand, combCore, combCoreFill)}
                fit={combFit}
                zeroTop={3}
                zeroColor="#111"
                frameColor="#333"
            />
            <svg width={633} height={1703} style={{ position: 'absolute', left: 0, top: 0, pointerEvents: 'none' }}>
                <path
                    d="M13.5,1703 V22 A12,12 0 0 1 25.5,10 H624 A9,9 0 0 1 633,16"
                    fill="none"
                    stroke="#3a3a3a"
                    strokeWidth={1.6}
                />
                <YTitle cy={224} />
                <YTitle cy={716} />
                <YTitle cy={1216} />
                <XTitle cx={357} y={472} color="#1fa64a" text="Mean mRNA2 change" />
                <XTitle cx={362} y={967} color="#f7941d" text="Mean translation change" />
                <XTitle cx={356} y={1458} color="#27aae1" text="Mean mRNA2 x translation change" />
                <Stats x={136} y={80} r="0.71" />
                <Stats x={137} y={573} r="0.36" />
                <Stats x={130} y={1077} r="0.71" />
                <g fontFamily={capFont} fontSize={19} fill="#3a3a3a">
                    <text x={30} y={1504} textLength={592} lengthAdjust="spacingAndGlyphs" fontWeight="bold" fill="#1e1e1e">
                        Figure 6 Relationships between mRNA, translation, and protein
                    </text>
                    <text x={30} y={1531} textLength={578} lengthAdjust="spacingAndGlyphs">
                        <tspan fontWeight="bold" fill="#1e1e1e">regulation</tspan>. Scatter plots showing linear regressions of the average
                    </text>
                    <text x={30} y={1559} textLength={520} lengthAdjust="spacingAndGlyphs">
                        log<tspan dy={4} fontSize={13}>2</tspan><tspan dy={-4}> changes of proteins and of average changes in mRNA2</tspan>
                    </text>
                    {captionLines.map((line, i) => (
                        <text key={i} x={30} y={1586 + i * 27.3} textLength={capWidths[i]} lengthAdjust="spacingAndGlyphs">
                            {line}
                        </text>
                    ))}
                </g>
            </svg>
        </div>
    );
}
